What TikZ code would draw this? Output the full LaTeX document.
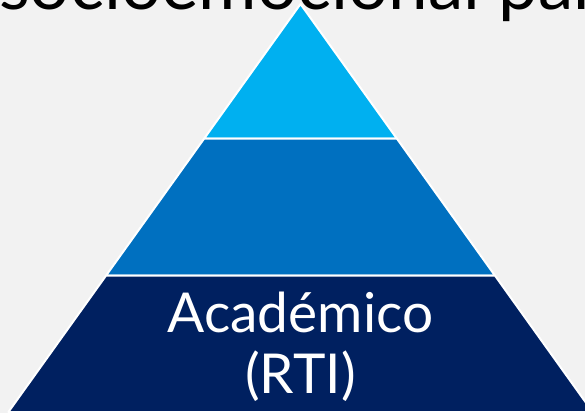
\documentclass[tikz,border=0pt]{standalone}
\usepackage{fontspec}
\setmainfont{Lato}
\definecolor{bgc}{HTML}{F2F2F2}
\definecolor{tiertop}{HTML}{00B0F0}
\definecolor{tiermid}{HTML}{0070C0}
\definecolor{tierbot}{HTML}{002060}
\tikzset{
  tier/.style={draw=white, line width=2pt, line join=round},
  titletext/.style={anchor=base west, inner sep=0pt, text=black, font=\fontsize{71}{75}\selectfont},
  tiertext/.style={anchor=base, inner sep=0pt, text=white, align=center, font=\fontsize{55}{61}\selectfont}
}
\begin{document}
\begin{tikzpicture}[x=1pt,y=-1pt]
\fill[bgc] (0,0) rectangle (585,413);
\useasboundingbox (0,0) rectangle (585,413);
\node[titletext] (title) at (-1,9) {socioemocional par};
% pyramid geometry
\coordinate (apex) at (300.5,4);
\coordinate (l1) at (204.2,138.5);
\coordinate (r1) at (396.8,138.5);
\coordinate (l2) at (106.1,275.5);
\coordinate (r2) at (494.9,275.5);
\coordinate (l3) at (8.4,412);
\coordinate (r3) at (592.6,412);
\filldraw[tier, fill=tiertop] (apex) -- (r1) -- (l1) -- cycle;
\filldraw[tier, fill=tiermid] (l1) -- (r1) -- (r2) -- (l2) -- cycle;
\filldraw[tier, fill=tierbot] (l2) -- (r2) -- (r3) -- (l3) -- cycle;
\node[tiertext] (acad) at (300.5,393) {Académico\\(RTI)};
\end{tikzpicture}
\end{document}
